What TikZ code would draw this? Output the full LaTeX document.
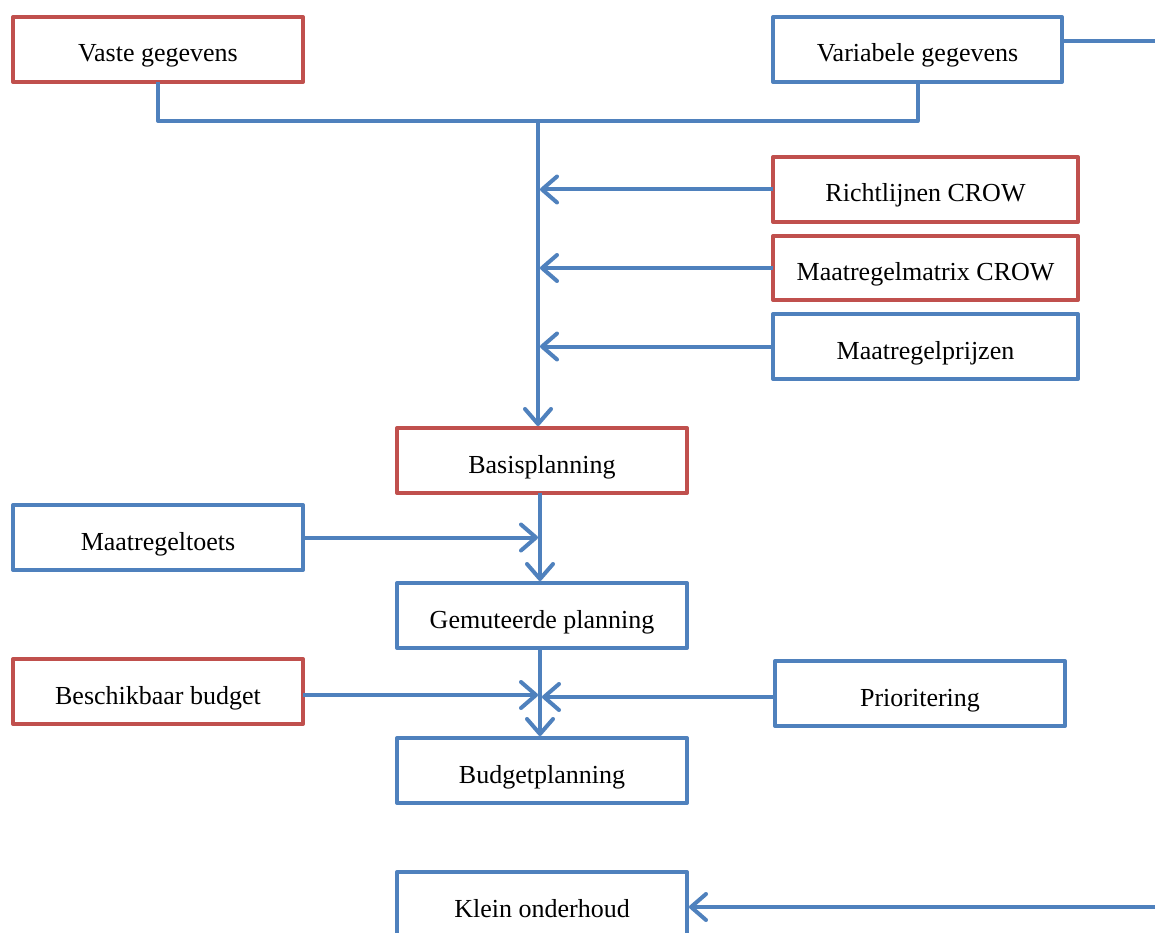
\documentclass[tikz,border=0pt]{standalone}
\usepackage{fontspec}
\setmainfont{Liberation Serif}
\usetikzlibrary{arrows.meta,calc}
\definecolor{cblue}{HTML}{4F81BD}
\definecolor{cred}{HTML}{C0504D}
\tikzset{
  box/.style={draw, line width=4pt, line join=round, fill=white, minimum width=290pt, minimum height=65pt,
    inner sep=0pt, outer sep=0pt, text height=30pt, text depth=5pt, font=\fontsize{26}{30}\selectfont, anchor=north west},
  bbox/.style={box, draw=cblue},
  rbox/.style={box, draw=cred},
  conn/.style={draw=cblue, line width=4pt, line join=round},
  arr/.style={conn, shorten >=2pt, -{Straight Barb[length=15pt,width=26pt,round]}},
}
\begin{document}
\begin{tikzpicture}[x=1pt,y=-1pt]
\clip (0,0) rectangle (1155,933);
\fill[white] (0,0) rectangle (1155,933);
% nodes (positioned by top-left corner at stroke centre)
\node[rbox] (vaste) at (13,17) {Vaste gegevens};
\node[bbox, minimum width=289pt] (var) at (773,17) {Variabele gegevens};
\node[rbox, minimum width=305pt] (richt) at (773,157) {Richtlijnen CROW};
\node[rbox, minimum width=305pt, minimum height=64pt] (matrix) at (773,236) {Maatregelmatrix CROW};
\node[bbox, minimum width=305pt] (prijs) at (773,314) {Maatregelprijzen};
\node[rbox] (basis) at (397,428) {Basisplanning};
\node[bbox] (toets) at (13,505) {Maatregeltoets};
\node[bbox] (gem) at (397,583) {Gemuteerde planning};
\node[rbox] (besch) at (13,659) {Beschikbaar budget};
\node[bbox] (prio) at (775,661) {Prioritering};
\node[bbox] (budget) at (397,738) {Budgetplanning};
\node[bbox] (klein) at (397,872) {Klein onderhoud};
% junction and free ends
\coordinate (j) at (538,121);
\coordinate (outtop) at (1165,41);
\coordinate (outbot) at (1165,907);
% top merge
\draw[conn] (vaste.south) |- (j);
\draw[conn] (var.south) |- (j);
\draw[conn] ($(var.east)+(0,-8.5)$) -- (outtop);
% main vertical
\draw[arr] (j) -- (j |- basis.north);
\draw[arr] (richt.west) -- (richt.west -| j);
\draw[arr] (matrix.west) -- (matrix.west -| j);
\draw[arr] (prijs.west) -- (prijs.west -| j);
% lower chain
\coordinate (v) at ($(basis.south)+(-2,0)$);
\draw[arr] (basis.south -| v) -- (gem.north -| v);
\draw[arr] (toets.east) -- (toets.east -| v);
\draw[arr] (gem.south -| v) -- (budget.north -| v);
\draw[arr] ($(besch.east)+(0,3.5)$) -- ($(besch.east -| v)+(0,3.5)$);
\draw[arr] ($(prio.west)+(0,3.5)$) -- ($(prio.west -| v)+(0,3.5)$);
\draw[arr] (outbot) -- (outbot -| klein.east);
\end{tikzpicture}
\end{document}
